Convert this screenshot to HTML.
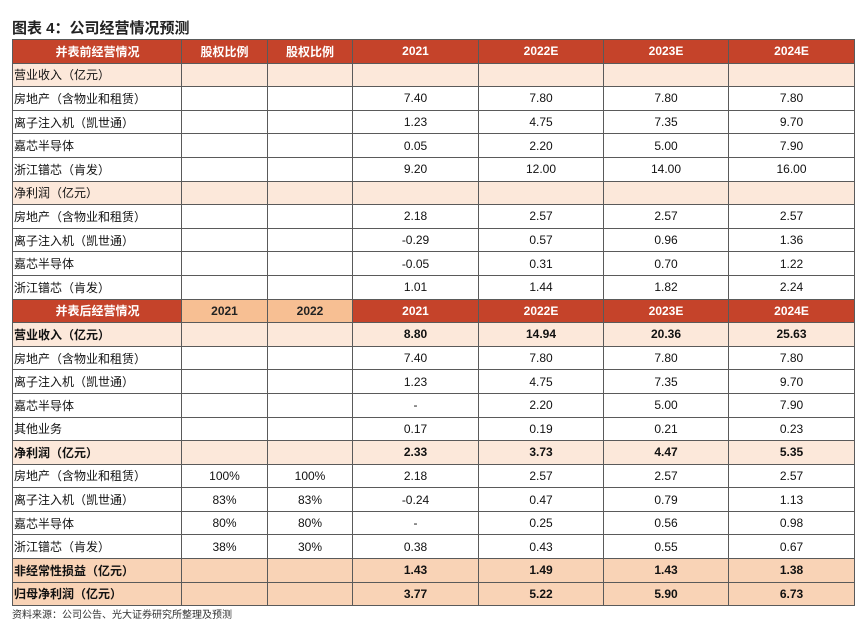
<!DOCTYPE html>
<html><head><meta charset="utf-8"><style>
body{margin:0;width:860px;height:619px;background:#fff;font-family:"Liberation Sans","Noto Sans CJK SC",sans-serif;position:relative;overflow:hidden}
.title{position:absolute;left:12px;top:17px;font-size:15px;font-weight:bold;color:#222}
table{position:absolute;left:12px;top:39px;width:842px;border-collapse:collapse;table-layout:fixed;font-size:12px;color:#111}
td{border:1px solid #5a5a5a;height:22.6px;padding:0;text-align:center;white-space:nowrap;overflow:hidden}
td:first-child{text-align:left;padding-left:1px}
tr.h td{background:#c5432a;color:#fff;font-weight:bold}
tr.h td:first-child{text-align:center}
tr.h2 td.y{background:#f7bf93;color:#222}
tr.p td{background:#fce8da}
tr.p2 td{background:#f9d3b6}
tr.b td{font-weight:bold}
.src{position:absolute;left:12px;top:606px;font-size:10px;color:#333}
</style></head><body>
<div class="title">图表 4：公司经营情况预测</div>
<table>
<colgroup><col style="width:169px"><col style="width:86px"><col style="width:85px"><col style="width:126px"><col style="width:125px"><col style="width:125px"><col style="width:126px"></colgroup>
<tr class="h"><td>并表前经营情况</td><td>股权比例</td><td>股权比例</td><td>2021</td><td>2022E</td><td>2023E</td><td>2024E</td></tr>
<tr class="p"><td>营业收入（亿元）</td><td></td><td></td><td></td><td></td><td></td><td></td></tr>
<tr><td>房地产（含物业和租赁）</td><td></td><td></td><td>7.40</td><td>7.80</td><td>7.80</td><td>7.80</td></tr>
<tr><td>离子注入机（凯世通）</td><td></td><td></td><td>1.23</td><td>4.75</td><td>7.35</td><td>9.70</td></tr>
<tr><td>嘉芯半导体</td><td></td><td></td><td>0.05</td><td>2.20</td><td>5.00</td><td>7.90</td></tr>
<tr><td>浙江镨芯（肯发）</td><td></td><td></td><td>9.20</td><td>12.00</td><td>14.00</td><td>16.00</td></tr>
<tr class="p"><td>净利润（亿元）</td><td></td><td></td><td></td><td></td><td></td><td></td></tr>
<tr><td>房地产（含物业和租赁）</td><td></td><td></td><td>2.18</td><td>2.57</td><td>2.57</td><td>2.57</td></tr>
<tr><td>离子注入机（凯世通）</td><td></td><td></td><td>-0.29</td><td>0.57</td><td>0.96</td><td>1.36</td></tr>
<tr><td>嘉芯半导体</td><td></td><td></td><td>-0.05</td><td>0.31</td><td>0.70</td><td>1.22</td></tr>
<tr><td>浙江镨芯（肯发）</td><td></td><td></td><td>1.01</td><td>1.44</td><td>1.82</td><td>2.24</td></tr>
<tr class="h h2"><td>并表后经营情况</td><td class="y">2021</td><td class="y">2022</td><td>2021</td><td>2022E</td><td>2023E</td><td>2024E</td></tr>
<tr class="p b"><td>营业收入（亿元）</td><td></td><td></td><td>8.80</td><td>14.94</td><td>20.36</td><td>25.63</td></tr>
<tr><td>房地产（含物业和租赁）</td><td></td><td></td><td>7.40</td><td>7.80</td><td>7.80</td><td>7.80</td></tr>
<tr><td>离子注入机（凯世通）</td><td></td><td></td><td>1.23</td><td>4.75</td><td>7.35</td><td>9.70</td></tr>
<tr><td>嘉芯半导体</td><td></td><td></td><td>-</td><td>2.20</td><td>5.00</td><td>7.90</td></tr>
<tr><td>其他业务</td><td></td><td></td><td>0.17</td><td>0.19</td><td>0.21</td><td>0.23</td></tr>
<tr class="p b"><td>净利润（亿元）</td><td></td><td></td><td>2.33</td><td>3.73</td><td>4.47</td><td>5.35</td></tr>
<tr><td>房地产（含物业和租赁）</td><td>100%</td><td>100%</td><td>2.18</td><td>2.57</td><td>2.57</td><td>2.57</td></tr>
<tr><td>离子注入机（凯世通）</td><td>83%</td><td>83%</td><td>-0.24</td><td>0.47</td><td>0.79</td><td>1.13</td></tr>
<tr><td>嘉芯半导体</td><td>80%</td><td>80%</td><td>-</td><td>0.25</td><td>0.56</td><td>0.98</td></tr>
<tr><td>浙江镨芯（肯发）</td><td>38%</td><td>30%</td><td>0.38</td><td>0.43</td><td>0.55</td><td>0.67</td></tr>
<tr class="p2 b"><td>非经常性损益（亿元）</td><td></td><td></td><td>1.43</td><td>1.49</td><td>1.43</td><td>1.38</td></tr>
<tr class="p2 b"><td>归母净利润（亿元）</td><td></td><td></td><td>3.77</td><td>5.22</td><td>5.90</td><td>6.73</td></tr>
</table>
<div class="src">资料来源：公司公告、光大证券研究所整理及预测</div>
</body></html>
